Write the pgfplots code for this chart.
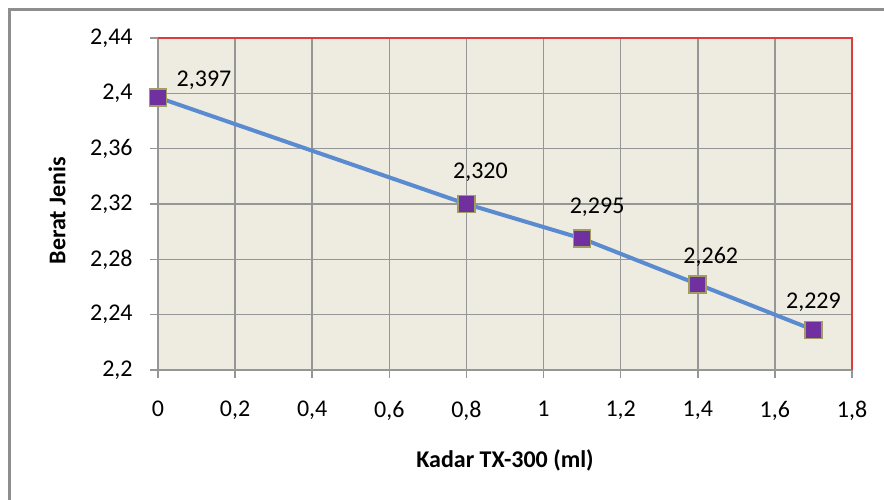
\documentclass[border=0pt,12pt]{standalone}
\usepackage{fontspec}
\setmainfont{Carlito}
\usepackage{pgfplots}
\pgfplotsset{compat=1.18}
\definecolor{bgc}{HTML}{EEECE1}
\definecolor{gridc}{HTML}{969696}
\definecolor{redc}{HTML}{DD3C3C}
\definecolor{linec}{HTML}{5A8AD0}
\definecolor{markc}{HTML}{7030A0}
\definecolor{markedge}{HTML}{9E9E62}
\definecolor{framec}{HTML}{8E8E8E}
\begin{document}
\begin{tikzpicture}
\useasboundingbox (0,0) rectangle (442pt,-249.5pt);
\draw[framec, line width=1.5pt] (4.75pt,-300pt) -- (4.75pt,-4.5pt) -- (500pt,-4.5pt);
\begin{axis}[
  at={(79pt,-185pt)}, anchor=south west,
  width=347pt, height=166pt, scale only axis,
  xmin=0, xmax=1.8, ymin=2.2, ymax=2.44,
  xtick={0,0.2,0.4,0.6,0.8,1,1.2,1.4,1.6,1.8},
  ytick={2.2,2.24,2.28,2.32,2.36,2.4,2.44},
  axis background/.style={fill=bgc},
  grid=major, grid style={gridc, line width=0.8pt},
  axis line style={draw=none},
  tick align=outside, tick pos=left, major tick length=4pt,
  tick style={gridc, line width=0.8pt},
  /pgf/number format/use comma,
  /pgf/number format/1000 sep={},
  /pgf/number format/assume math mode=true,
  yticklabel style={anchor=east, inner sep=0pt, xshift=-8.5pt},
  xticklabel style={anchor=north, inner sep=0pt, yshift=-11.5pt},
  clip=false,
  xlabel={\bfseries Kadar TX-300 (ml)},
  ylabel={\bfseries Berat Jenis},
  every axis x label/.style={at={(axis description cs:0.5,0)}, anchor=center, yshift=-45pt},
  every axis y label/.style={at={(axis description cs:0,0.48)}, anchor=center, xshift=-50.5pt, rotate=90},
  nodes near coords, point meta=explicit symbolic,
  visualization depends on={\thisrow{dx} \as \dx},
  visualization depends on={\thisrow{dy} \as \dy},
  every node near coord/.append style={anchor=base, inner sep=0pt, xshift=\dx pt, yshift=\dy pt, text=black},
]
\draw[gridc, line width=0.8pt] (rel axis cs:0,1) -- (rel axis cs:0,0) -- (rel axis cs:1,0);
\draw[redc, line width=0.7pt] (rel axis cs:0,1) -- (rel axis cs:1,1) -- (rel axis cs:1,0);
\addplot[color=linec, line width=2pt, mark=square*, mark size=4.25pt,
  mark options={fill=markc, draw=markedge, line width=0.8pt}]
  table[x=x, y=y, meta=lab] {
x y dx dy lab
0 2.397 23 5.5 {2,397}
0.8 2.320 7 13 {2,320}
1.1 2.295 7.5 12.5 {2,295}
1.4 2.262 6.5 10.5 {2,262}
1.7 2.229 0 10.5 {2,229}
};
\end{axis}
\end{tikzpicture}
\end{document}
